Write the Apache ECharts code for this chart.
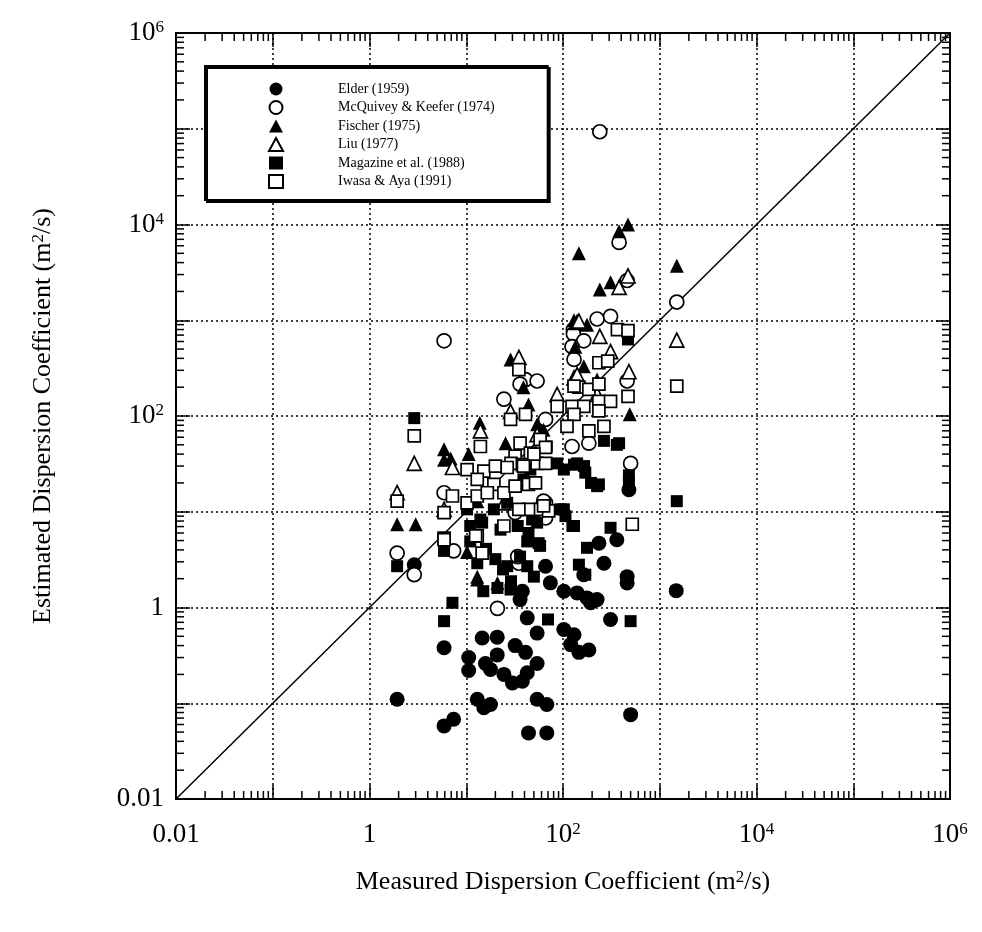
<!DOCTYPE html>
<html><head><meta charset="utf-8">
<script src="https://cdn.jsdelivr.net/npm/echarts@6/dist/echarts.min.js"></script>
<style>html,body{margin:0;padding:0;background:#fff}#c{width:982px;height:932px}</style>
</head><body><div id="c"></div>
<script>
const seriesNames = ['Elder (1959)', 'McQuivey & Keefer (1974)', 'Fischer (1975)', 'Liu (1977)', 'Magazine et al. (1988)', 'Iwasa & Aya (1991)'];

const elder = [[1.93,0.11],[5.9,0.38],[5.9,0.058],[7.4,0.068],[10.6,0.3],[10.6,0.22],[13,0.11],[17.8,0.097],[15.2,0.09],[14.6,0.48],[20.9,0.49],[15.8,0.26],[20.9,0.32],[17.8,0.225],[24.5,0.2],[30,0.163],[38,0.17],[42.7,0.208],[32,0.4],[41,0.34],[54,0.26],[54,0.54],[42.7,0.78],[102,0.59],[130,0.52],[120,0.41],[146,0.34],[185,0.36],[310,0.75],[54,0.11],[68,0.097],[500,0.076],[44,0.049],[68,0.049],[36,1.21],[38,1.48],[66,2.7],[74,1.81],[102,1.48],[140,1.42],[177,1.26],[225,1.21],[193,1.12],[265,2.9],[460,2.1],[460,1.8],[480,17],[235,4.7],[360,5.1],[164,2.2],[1480,1.5],[2.9,2.8]];

const mcquivey = [[240,93000],[380,6500],[460,2600],[1500,1550],[225,1030],[310,1100],[128,800],[128,720],[164,610],[124,530],[130,390],[5.9,610],[41,240],[54,232],[36,215],[24.5,150],[66,92],[460,232],[185,52],[124,48],[500,32],[66,12.4],[66,10.6],[66,8.6],[32,9.8],[5.9,15.8],[7.4,3.9],[1.93,3.7],[2.9,2.2],[21,0.98],[35,2.9],[34,3.4],[63,12.9]];

const fischer = [[1.93,7.4],[3.0,7.4],[5.9,45],[5.9,35],[6.9,36],[10.6,40],[13.8,85],[28.7,390],[44,132],[54,82],[63,72],[25.5,52],[39,200],[134,530],[130,1000],[177,900],[164,330],[225,240],[146,5000],[240,2100],[310,2500],[380,8500],[470,10000],[1500,3700],[490,104],[13,12.9],[13,2.1],[10.2,3.8],[21,1.8],[13,1.96]];

const liu = [[1.93,15.8],[2.9,32],[5.9,10.6],[7.2,29],[14,70],[35,410],[28.7,112],[87,168],[54,64],[24.5,12.4],[140,950],[130,250],[140,270],[225,168],[240,680],[310,470],[380,2200],[470,2900],[480,290],[146,980],[1500,620]];

const magazine = [[2.9,95],[1.93,2.7],[5.9,3.9],[7.2,1.12],[5.9,0.72],[13,2.9],[44,6.0],[56,4.7],[36,3.4],[125,7.1],[24,2.5],[29,1.88],[15,1.48],[21,1.6],[265,55],[380,52],[68,48],[68,32],[195,20],[225,18.5],[165,30],[130,31],[480,24],[480,20],[102,10.6],[130,7.1],[310,6.8],[177,4.2],[146,2.8],[170,2.2],[58,4.4],[70,0.75],[500,0.72],[470,630],[1500,12.9],[11,7.1],[14.6,7.7],[16,4.1],[20,3.2],[26.5,2.7],[42.7,4.9],[54,7.7],[42.7,2.7],[50,2.1],[28.7,1.54],[34,7.1],[22.6,6.5],[10.2,10.6],[11,4.9],[14,8.3],[19.3,10.6],[26.5,12.4],[48,8.3],[87,32],[102,27.6],[140,32],[235,19.3],[39,21.8],[46,27.6],[94,10.6],[106,9],[360,50],[170,25.6]];

const iwasa = [[2.9,62],[1.93,12.9],[5.9,5.3],[13,5.6],[14.6,3.7],[520,7.4],[35,305],[28.7,92],[41,104],[14,48],[365,800],[470,780],[235,360],[290,375],[470,160],[146,200],[185,190],[235,215],[87,126],[124,126],[164,126],[235,142],[310,142],[130,104],[235,113],[110,78],[185,70],[265,78],[130,205],[36,52],[58,57],[46,41],[32,38],[29,32],[15.2,26.5],[20,30],[26.5,29],[38,31],[54,32],[66,32],[66,47],[19.3,19.3],[24.5,15.8],[32,18.5],[44,19.3],[52,20],[58,10.6],[71,10.2],[44,10.6],[10.2,12.4],[13,14.6],[16.5,15.8],[5.9,9.8],[5.9,5.1],[24.5,7.1],[12.5,5.6],[7.2,14.6],[10.2,27.6],[63,11.5],[35,10.6],[13,21.8],[1500,205],[50,40],[39,30]];

const diagonal = [[0.01,0.01],[1000000,1000000]];

const majorTickValues = [0.01, 1, 100, 10000, 1000000];
const majorTickTexts = ['0.01', '1', '10{sup|2}', '10{sup|4}', '10{sup|6}'];
const minorMantissas = [2,3,4,5,6,7,8,9];
const decadeStarts = [0.01,0.1,1,10,100,1000,10000,100000];
const axisMin = 0.01, axisMax = 1000000;

const FONT = 'Liberation Serif';
const minorTickValues = [];
decadeStarts.forEach(d => minorMantissas.forEach(m => minorTickValues.push(m * d)));

function labelFmt(v) {
  const e = Math.round(Math.log10(v));
  for (let i = 0; i < majorTickValues.length; i++) {
    if (Math.round(Math.log10(majorTickValues[i])) === e) return majorTickTexts[i];
  }
  return '';
}
const richLabel = { sup: { fontSize: 17, fontFamily: FONT, color: '#000', verticalAlign: 'top', lineHeight: 16 } };
const richName = { sup: { fontSize: 17, fontFamily: FONT, color: '#000', verticalAlign: 'top', lineHeight: 16 } };

function scat(name, data, symbol, filled, size) {
  return {
    name, type: 'scatter', data, symbol, symbolSize: size,
    itemStyle: filled ? { color: '#000', borderColor: '#000', borderWidth: 0, opacity: 1 } : { color: '#fff', borderColor: '#000', borderWidth: 1.7, opacity: 1 },
    emphasis: { disabled: true }, z: 3, xAxisIndex: 0, yAxisIndex: 0
  };
}

const baseAxis = {
  type: 'log', logBase: 10, min: axisMin, max: axisMax, splitNumber: 8,
  axisLine: { show: true, onZero: false, lineStyle: { color: '#000', width: 2 } },
  axisTick: { show: true, inside: true, length: 14, lineStyle: { color: '#000', width: 1.5 } },
  minorTick: { show: false },
};

const chart = echarts.init(document.getElementById('c'), null, { renderer: 'canvas' });
chart.setOption({
  backgroundColor: '#fff',
  animation: false,
  grid: { left: 176, right: 32, top: 33, bottom: 133, outerBoundsMode: 'none' },
  legend: {
    data: seriesNames, orient: 'vertical', left: 205, top: 66,
    itemWidth: 14, itemHeight: 13, itemGap: 4,
    padding: [16, 53, 11, 63],
    backgroundColor: '#fff', borderColor: '#000', borderWidth: 2,
    shadowColor: '#000', shadowOffsetX: 2, shadowOffsetY: 2, shadowBlur: 0,
    textStyle: { fontFamily: FONT, fontSize: 14, lineHeight: 14, color: '#000', padding: [0, 0, 0, 50] },
    selectedMode: false, z: 10
  },
  xAxis: [
    Object.assign({}, baseAxis, {
      position: 'bottom',
      axisLabel: { formatter: labelFmt, margin: 22, fontFamily: FONT, fontSize: 27, color: '#000', rich: richLabel, showMinLabel: true, showMaxLabel: true },
      splitLine: { show: true, lineStyle: { color: '#000', type: [2, 3], width: 1.5 } },
      name: 'Measured Dispersion Coefficient (m{sup|2}/s)', nameLocation: 'middle', nameGap: 70,
      nameTextStyle: { fontFamily: FONT, fontSize: 26, color: '#000', rich: richName }
    }),
    Object.assign({}, baseAxis, {
      position: 'top', axisLabel: { show: false }, splitLine: { show: false }
    })
  ],
  yAxis: [
    Object.assign({}, baseAxis, {
      position: 'left',
      axisLabel: { formatter: labelFmt, margin: 12, fontFamily: FONT, fontSize: 27, color: '#000', rich: richLabel, showMinLabel: true, showMaxLabel: true },
      splitLine: { show: true, lineStyle: { color: '#000', type: [2, 3], width: 1.5 } },
      name: 'Estimated Dispersion Coefficient (m{sup|2}/s)', nameLocation: 'middle', nameGap: 120,
      nameTextStyle: { fontFamily: FONT, fontSize: 26, color: '#000', rich: richName }
    }),
    Object.assign({}, baseAxis, {
      position: 'right', axisLabel: { show: false }, splitLine: { show: false }
    })
  ],
  series: [
    {
      type: 'line', data: diagonal, symbol: 'none', silent: true, z: 2,
      lineStyle: { color: '#000', width: 1.5 }, xAxisIndex: 0, yAxisIndex: 0
    },
    {
      type: 'custom', silent: true, z: 4, clip: false, xAxisIndex: 0, yAxisIndex: 0,
      data: minorTickValues.map(v => [v, v]),
      renderItem: function (params, api) {
        const v = api.value(0);
        const b = api.coord([v, axisMin]);
        const t = api.coord([v, axisMax]);
        const l = api.coord([axisMin, v]);
        const r = api.coord([axisMax, v]);
        const L = 8;
        const st = { stroke: '#000', lineWidth: 1.5 };
        return {
          type: 'group', children: [
            { type: 'line', shape: { x1: b[0], y1: b[1], x2: b[0], y2: b[1] - L }, style: st },
            { type: 'line', shape: { x1: t[0], y1: t[1], x2: t[0], y2: t[1] + L }, style: st },
            { type: 'line', shape: { x1: l[0], y1: l[1], x2: l[0] + L, y2: l[1] }, style: st },
            { type: 'line', shape: { x1: r[0], y1: r[1], x2: r[0] - L, y2: r[1] }, style: st }
          ]
        };
      }
    },
    scat(seriesNames[0], elder, 'circle', true, 15),
    scat(seriesNames[1], mcquivey, 'circle', false, 14),
    scat(seriesNames[2], fischer, 'triangle', true, 14),
    scat(seriesNames[3], liu, 'triangle', false, 14),
    scat(seriesNames[4], magazine, 'rect', true, 12),
    scat(seriesNames[5], iwasa, 'rect', false, 12)
  ]
});
</script>
</body></html>
